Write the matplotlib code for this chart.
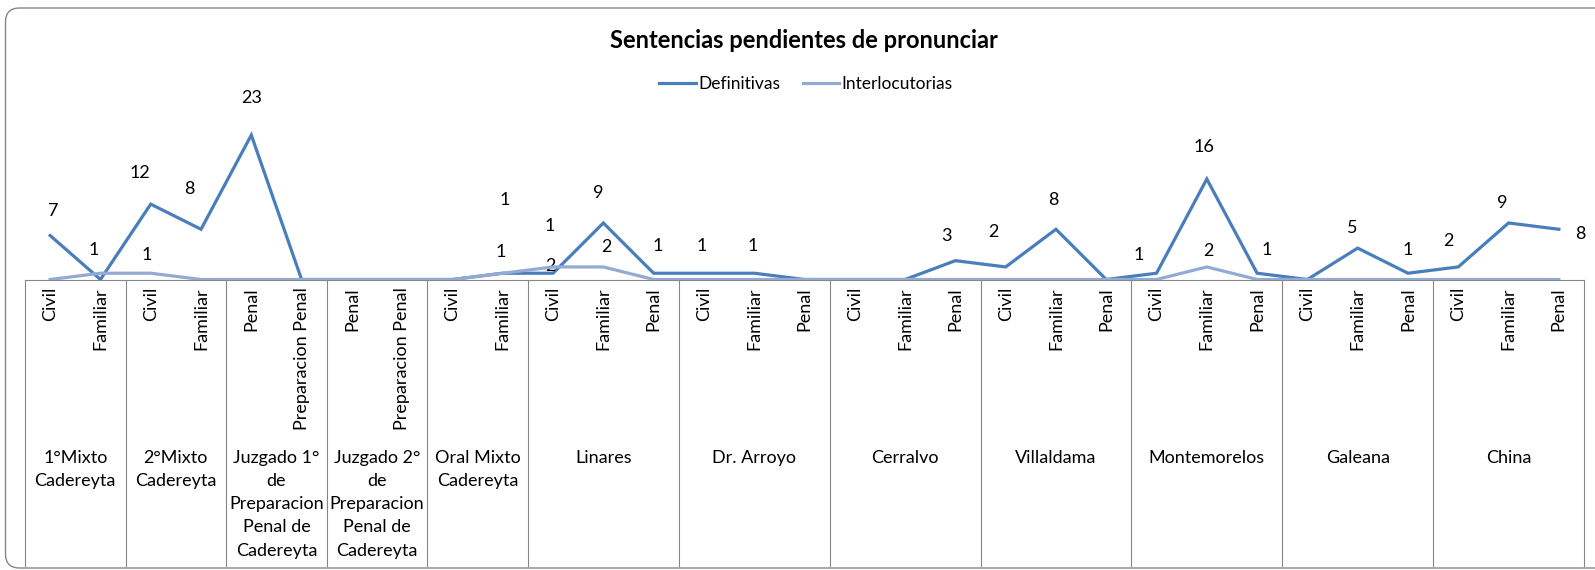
import matplotlib.pyplot as plt
from matplotlib.patches import FancyBboxPatch
from matplotlib.transforms import IdentityTransform, blended_transform_factory

# Datos
grupos = ["1°Mixto\nCadereyta", "2°Mixto\nCadereyta",
          "Juzgado 1°\nde\nPreparacion\nPenal de\nCadereyta",
          "Juzgado 2°\nde\nPreparacion\nPenal de\nCadereyta",
          "Oral Mixto\nCadereyta", "Linares", "Dr. Arroyo", "Cerralvo",
          "Villaldama", "Montemorelos", "Galeana", "China"]
materias = [["Civil", "Familiar"], ["Civil", "Familiar"],
            ["Penal", "Preparacion Penal"], ["Penal", "Preparacion Penal"],
            ["Civil", "Familiar"],
            ["Civil", "Familiar", "Penal"], ["Civil", "Familiar", "Penal"],
            ["Civil", "Familiar", "Penal"], ["Civil", "Familiar", "Penal"],
            ["Civil", "Familiar", "Penal"], ["Civil", "Familiar", "Penal"],
            ["Civil", "Familiar", "Penal"]]
definitivas = [7, 0, 12, 8, 23, 0, 0, 0, 0, 1, 1, 9, 1, 1, 1, 0,
               0, 0, 3, 2, 8, 0, 1, 16, 1, 0, 5, 1, 2, 9, 8]
interlocutorias = [0, 1, 1, 0, 0, 0, 0, 0, 0, 1, 2, 2, 0, 0, 0, 0,
                   0, 0, 0, 0, 0, 0, 0, 2, 0, 0, 0, 0, 0, 0, 0]

# desplazamiento de las etiquetas (pixeles, dx, dy hacia arriba)
desp_def = {0: (3, 25), 2: (-11, 31), 3: (-12, 40), 4: (0, 37), 9: (2, 73),
            10: (-3, 47), 11: (-5, 30), 12: (4, 27), 13: (-2, 27), 14: (-2, 27),
            18: (-9, 25), 19: (-12, 35), 20: (-3, 29), 22: (-18, 18),
            23: (-3, 32), 24: (10, 23), 26: (-5, 20), 27: (0, 23),
            28: (-10, 26), 29: (-6, 20), 30: (21, -5)}
desp_int = {1: (-7, 23), 2: (-4, 18), 9: (-2, 21), 10: (-3, 1),
            11: (3, 20), 23: (2, 16)}

W, H = 1595, 570
plt.rcParams["font.family"] = "Lato"
TAM = 13

fig = plt.figure(figsize=(W / 100, H / 100), dpi=100)

# borde redondeado del grafico
fig.add_artist(FancyBboxPatch((5.5, H - 568), 1620, 560,
                              boxstyle="round,pad=0,rounding_size=14",
                              transform=IdentityTransform(), fill=False,
                              edgecolor="#868686", linewidth=1.0))

x0, x1, y0, y1 = 25, 1584, 279.5, 122.5
ax = fig.add_axes([x0 / W, 1 - y0 / H, (x1 - x0) / W, (y0 - y1) / H])
n = len(definitivas)
xs = [i + 0.5 for i in range(n)]
ax.set_xlim(0, n)
ax.set_ylim(0, 25)
ax.plot(xs, definitivas, color="#4A7EBB", lw=2.3, zorder=3,
        solid_joinstyle="miter", label="Definitivas")
ax.plot(xs, interlocutorias, color="#93ABD4", lw=2.3, zorder=4,
        solid_joinstyle="miter", label="Interlocutorias")
for s in ["top", "left", "right"]:
    ax.spines[s].set_visible(False)
ax.spines["bottom"].set_color("#868686")
ax.spines["bottom"].set_linewidth(0.8)
ax.set_xticks([])
ax.set_yticks([])
ax.patch.set_alpha(0)

# etiquetas de datos
for serie, desp in [(definitivas, desp_def), (interlocutorias, desp_int)]:
    for i, v in enumerate(serie):
        if v == 0:
            continue
        dx, dy = desp.get(i, (0, 27))
        ax.annotate(str(v), (xs[i], v), xytext=(dx, dy),
                    textcoords="offset pixels", ha="center", va="center",
                    fontsize=TAM, annotation_clip=False)

# eje de categorias en dos niveles
tr = blended_transform_factory(ax.transData, fig.transFigure)
borde = 0
ax.plot([0, 0], [1 - y0 / H, 1 - 566 / H], color="#868686", lw=0.8,
        transform=tr, clip_on=False)
for g, subs in zip(grupos, materias):
    for j, s in enumerate(subs):
        ax.text(borde + j + 0.5, 1 - 287 / H, s, rotation=90, ha="center",
                va="top", fontsize=TAM, transform=tr)
    centro = borde + len(subs) / 2
    ax.text(centro, 1 - 450 / H, g, ha="center", va="top", fontsize=TAM,
            linespacing=1.55, transform=tr)
    borde += len(subs)
    ax.plot([borde, borde], [1 - y0 / H, 1 - 566 / H], color="#868686",
            lw=0.8, transform=tr, clip_on=False)

fig.text(804 / W, 1 - 41 / H, "Sentencias pendientes de pronunciar",
         ha="center", va="center", fontsize=17, fontweight="bold")
fig.legend(loc="center", bbox_to_anchor=(806 / W, 1 - 84 / H), ncol=2,
           frameon=False, fontsize=12.5, handlelength=2.1,
           handletextpad=0.15, columnspacing=1.3)

fig.savefig("out.png", dpi=100)
